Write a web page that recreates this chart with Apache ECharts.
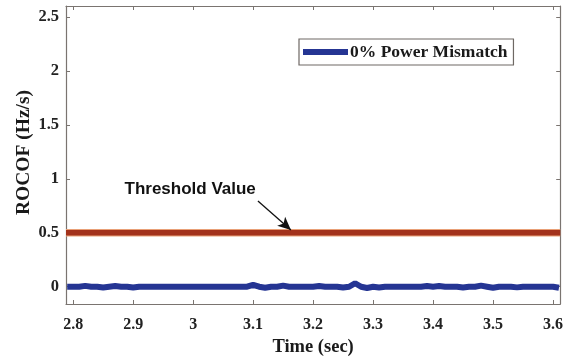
<!DOCTYPE html>
<html>
<head>
<meta charset="utf-8">
<script src="https://cdn.jsdelivr.net/npm/echarts@6/dist/echarts.min.js"></script>
<style>html,body{margin:0;padding:0;background:#fff}#c{width:566px;height:362px}</style>
</head>
<body>
<div id="c"></div>
<script>
var timeSec = [2.79,2.80,2.81,2.82,2.83,2.84,2.85,2.86,2.87,2.88,2.89,2.90,2.91,2.92,2.93,2.94,2.95,2.96,2.97,2.98,2.99,3.00,3.01,3.02,3.03,3.04,3.05,3.06,3.07,3.08,3.09,3.10,3.11,3.12,3.13,3.14,3.15,3.16,3.17,3.18,3.19,3.20,3.21,3.22,3.23,3.24,3.25,3.26,3.27,3.28,3.29,3.30,3.31,3.32,3.33,3.34,3.35,3.36,3.37,3.38,3.39,3.40,3.41,3.42,3.43,3.44,3.45,3.46,3.47,3.48,3.49,3.50,3.51,3.52,3.53,3.54,3.55,3.56,3.57,3.58,3.59,3.60,3.61];
var rocof0 = [0.00,0.00,0.00,0.008,0.00,0.00,-0.008,0.00,0.006,0.00,0.00,-0.008,0.00,0.00,0.00,0.00,0.00,0.00,0.00,0.00,0.00,0.00,0.00,0.00,0.00,0.00,0.00,0.00,0.00,0.00,0.00,0.018,0.00,-0.01,0.00,0.00,0.01,0.00,0.00,0.00,0.00,0.00,0.006,0.00,0.00,0.00,-0.008,0.00,0.032,0.00,-0.012,0.00,-0.008,0.00,0.00,0.00,0.00,0.00,0.00,0.00,0.006,0.00,0.006,0.00,0.00,0.00,-0.008,0.00,0.00,0.01,0.00,-0.01,0.00,0.00,0.00,-0.006,0.00,0.00,0.00,0.00,0.00,0.00,-0.01];
var thresholdT = [2.788, 3.612];
var thresholdV = [0.5, 0.5];
var xTicks = [2.8,2.9,3.0,3.1,3.2,3.3,3.4,3.5,3.6];
var yTicks = [0,0.5,1,1.5,2,2.5];
var legendName = '0% Power Mismatch';
var annotationText = 'Threshold Value';
var arrowFrom = [3.108, 0.795];
var arrowTo = [3.163, 0.526];
var textAt = [2.995, 0.9];

var serif = '"Liberation Serif","Times New Roman",serif';
var blueData = timeSec.map(function(t,i){return [t, rocof0[i]];});
var redData = thresholdT.map(function(t,i){return [t, thresholdV[i]];});

var chart = echarts.init(document.getElementById('c'), null, {renderer:'canvas'});
var axisLine = {show:true, onZero:false, lineStyle:{color:'#7a7470', width:1.2}};
function ticks(vals){return {show:true, inside:true, length:4, lineStyle:{color:'#7a7470'}, customValues:vals};}
chart.setOption({
  animation:false,
  grid:{left:66, right:5, top:6, bottom:58, containLabel:false},
  legend:{
    show:true, data:[legendName], left:299, top:39,
    padding:[4,6,4,4], itemWidth:45, itemHeight:6, itemGap:2,
    borderColor:'#6e6864', borderWidth:1.2, backgroundColor:'#fff',
    textStyle:{fontFamily:serif, fontWeight:'bold', fontSize:17.5, color:'#1a1a1a', padding:[0,0,0,-3]},
    icon:'rect'
  },
  xAxis:[{
    type:'value', min:2.788, max:3.612, interval:0.1,
    name:'Time (sec)', nameLocation:'middle', nameGap:34, nameMoveOverlap:false,
    nameTextStyle:{fontFamily:serif, fontWeight:'bold', fontSize:18.5, color:'#1a1a1a'},
    axisLine:axisLine, splitLine:{show:false}, axisTick:ticks(xTicks),
    axisLabel:{fontFamily:serif, fontWeight:'bold', fontSize:16, color:'#222', margin:13,
      customValues: xTicks, formatter:function(v){return String(+v.toFixed(2));}}
  },{
    type:'value', position:'top', min:2.788, max:3.612,
    axisLine:axisLine, splitLine:{show:false}, axisTick:ticks(xTicks), axisLabel:{show:false}
  }],
  yAxis:[{
    type:'value', min:-0.16, max:2.6,
    name:'ROCOF (Hz/s)', nameLocation:'middle', nameGap:32, nameMoveOverlap:false,
    nameTextStyle:{fontFamily:serif, fontWeight:'bold', fontSize:19.5, color:'#1a1a1a', padding:[0,0,0,5]},
    axisLine:axisLine, splitLine:{show:false}, axisTick:ticks(yTicks),
    axisLabel:{fontFamily:serif, fontWeight:'bold', fontSize:16.5, color:'#222', margin:7,
      customValues:yTicks, formatter:function(v){return String(+v.toFixed(2));}}
  },{
    type:'value', position:'right', min:-0.16, max:2.6,
    axisLine:axisLine, splitLine:{show:false}, axisTick:ticks(yTicks), axisLabel:{show:false}
  }],
  series:[
    {type:'line', name:'thresholdEdge', data:redData, showSymbol:false, symbol:'none',
     lineStyle:{color:'#e9a077', width:7.5}, silent:true, z:2},
    {type:'line', name:'threshold', data:redData, showSymbol:false, symbol:'none',
     lineStyle:{color:'#a3321c', width:5.5}, silent:true, z:3,
     markLine:{silent:true, symbol:['none','arrow'], symbolSize:[9,13],
       lineStyle:{color:'#111', width:1.3, type:'solid'}, label:{show:false},
       data:[[{coord:arrowFrom},{coord:arrowTo}]]}},
    {type:'line', name:legendName, data:blueData, showSymbol:false, symbol:'none',
     lineStyle:{color:'#253593', width:6}, itemStyle:{color:'#253593'}, z:4}
  ]
});
var p = chart.convertToPixel({xAxisIndex:0, yAxisIndex:0}, textAt);
chart.setOption({graphic:[{type:'text', x:p[0], y:p[1], style:{text:annotationText,
  font:'bold 17px "Liberation Sans", Arial, sans-serif', fill:'#111', textAlign:'center', textVerticalAlign:'middle'}}]});
</script>
</body>
</html>
